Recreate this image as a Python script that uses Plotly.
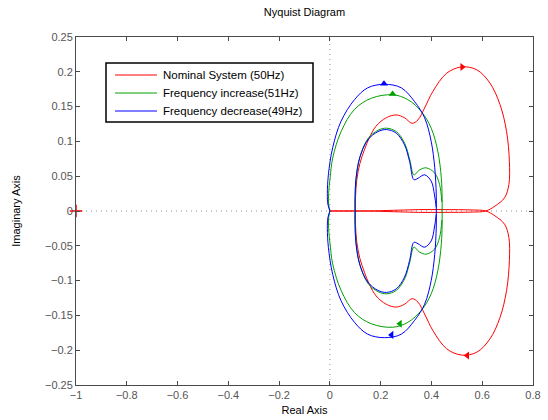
import plotly.graph_objects as go

# ---- data (upper half, positive frequencies) ----
# Nominal system (50Hz) - red
red_x = [0.100, 0.101, 0.106, 0.118, 0.136, 0.155, 0.182, 0.222, 0.261, 0.294, 0.324,
         0.347, 0.373, 0.406, 0.460, 0.519, 0.578, 0.630, 0.670, 0.696, 0.707, 0.705,
         0.688, 0.650, 0.614, 0.560, 0.450, 0.350, 0.250, 0.150, 0.000]
red_y = [0.000, 0.020, 0.045, 0.068, 0.088, 0.105, 0.122, 0.134, 0.138, 0.134, 0.126,
         0.131, 0.148, 0.172, 0.198, 0.207, 0.203, 0.184, 0.153, 0.114, 0.071, 0.038,
         0.019, 0.007, 0.000, -0.0015, -0.002, -0.002, -0.001, 0.000, 0.000]

# Frequency increase (51Hz) - green : outer loop and inner loop
green_outer_x = [0.000, -0.005, -0.005, 0.001, 0.011, 0.044, 0.097, 0.163, 0.248, 0.307,
                 0.360, 0.399, 0.425, 0.439, 0.442, 0.442]
green_outer_y = [0.000, 0.010, 0.025, 0.048, 0.076, 0.114, 0.146, 0.162, 0.167, 0.160,
                 0.143, 0.119, 0.086, 0.047, 0.020, 0.000]
green_inner_x = [0.100, 0.100, 0.103, 0.118, 0.150, 0.190, 0.223, 0.262, 0.295, 0.315,
                 0.331, 0.353, 0.379, 0.412, 0.432, 0.441]
green_inner_y = [0.000, 0.020, 0.045, 0.077, 0.104, 0.116, 0.119, 0.114, 0.097, 0.073,
                 0.052, 0.059, 0.062, 0.055, 0.038, 0.013]

# Frequency decrease (49Hz) - blue : outer loop and inner loop
blue_outer_x = [0.000, -0.008, -0.010, -0.006, 0.011, 0.044, 0.097, 0.149, 0.215, 0.281,
                0.334, 0.373, 0.399, 0.413, 0.419, 0.419]
blue_outer_y = [0.000, 0.010, 0.025, 0.052, 0.091, 0.129, 0.160, 0.177, 0.182, 0.177,
                0.157, 0.134, 0.100, 0.062, 0.023, 0.000]
blue_inner_x = [0.099, 0.099, 0.102, 0.117, 0.149, 0.189, 0.222, 0.261, 0.294, 0.314,
                0.331, 0.347, 0.373, 0.399, 0.412, 0.419]
blue_inner_y = [0.000, 0.020, 0.044, 0.076, 0.102, 0.114, 0.117, 0.112, 0.095, 0.071,
                0.045, 0.047, 0.052, 0.043, 0.023, 0.005]

# direction arrows (x, y, symbol)
red_arrows = [(0.521, 0.207, "triangle-right"), (0.541, -0.2075, "triangle-left")]
green_arrows = [(0.247, 0.168, "triangle-up"), (0.276, -0.162, "triangle-left")]
blue_arrows = [(0.213, 0.183, "triangle-up"), (0.243, -0.178, "triangle-left")]

critical_point = (-1.0, 0.0)

names = ["Nominal System (50Hz)", "Frequency increase(51Hz)", "Frequency decrease(49Hz)"]
colors = ["#ff0000", "#00a000", "#0000ff"]

x_ticks = [-1, -0.8, -0.6, -0.4, -0.2, 0, 0.2, 0.4, 0.6, 0.8]
y_ticks = [-0.25, -0.2, -0.15, -0.1, -0.05, 0, 0.05, 0.1, 0.15, 0.2, 0.25]


def full_branch(xs, ys):
    """positive-frequency branch + its complex-conjugate (negative-frequency) mirror"""
    return list(xs) + [None] + list(xs), list(ys) + [None] + [-v for v in ys]


def join(*parts):
    X, Y = [], []
    for px, py in parts:
        if X:
            X.append(None)
            Y.append(None)
        X += px
        Y += py
    return X, Y


series = [
    join(full_branch(red_x, red_y)),
    join(full_branch(green_outer_x, green_outer_y), full_branch(green_inner_x, green_inner_y)),
    join(full_branch(blue_outer_x, blue_outer_y), full_branch(blue_inner_x, blue_inner_y)),
]
arrows = [red_arrows, green_arrows, blue_arrows]

FONT = "Liberation Sans, Arial, Helvetica, sans-serif"

fig = go.Figure()
for (X, Y), name, col in zip(series, names, colors):
    fig.add_trace(go.Scatter(x=X, y=Y, mode="lines", name=name,
                             line=dict(color=col, width=1, shape="spline", smoothing=1.0),
                             connectgaps=False, hoverinfo="skip", showlegend=False))

for arr, col in zip(arrows, colors):
    fig.add_trace(go.Scatter(x=[a[0] for a in arr], y=[a[1] for a in arr], mode="markers",
                             marker=dict(symbol=[a[2] for a in arr], size=7, color=col),
                             showlegend=False, hoverinfo="skip"))

fig.add_trace(go.Scatter(x=[critical_point[0]], y=[critical_point[1]], mode="markers",
                         marker=dict(symbol="cross-thin", size=9,
                                     line=dict(color="#ff0000", width=1.5)),
                         showlegend=False, hoverinfo="skip", cliponaxis=False))

# dotted zero lines
fig.add_shape(type="line", xref="x", yref="paper", x0=0, x1=0, y0=0, y1=1,
              line=dict(color="#909090", width=1, dash="1px,4px"), layer="below")
fig.add_shape(type="line", xref="paper", yref="paper", x0=0, x1=1, y0=0.5, y1=0.5,
              line=dict(color="#909090", width=1, dash="1px,4px"), layer="below")

# legend box (MATLAB style), placed in paper coordinates
PW, PH = 457.0, 348.0          # plot area size in px
def px2x(p):
    return p / PW
def px2y(p):
    return 1 - p / PH

leg_left, leg_right, leg_top, leg_bottom = 30, 237, 26, 85   # px from plot top-left
fig.add_shape(type="rect", xref="paper", yref="paper",
              x0=px2x(leg_left), x1=px2x(leg_right), y0=px2y(leg_bottom), y1=px2y(leg_top),
              line=dict(color="#000000", width=1.5), fillcolor="white", layer="above")
for i, (name, col) in enumerate(zip(names, colors)):
    yc = 38 + 18 * i
    fig.add_shape(type="line", xref="paper", yref="paper",
                  x0=px2x(39), x1=px2x(81), y0=px2y(yc), y1=px2y(yc),
                  line=dict(color=col, width=1), layer="above")
    fig.add_annotation(xref="paper", yref="paper", x=px2x(85), y=px2y(yc),
                       xanchor="left", yanchor="middle", text=name, showarrow=False,
                       font=dict(family=FONT, size=11.5, color="#000000"))

axis_common = dict(showgrid=False, zeroline=False, showline=True, mirror="ticks",
                   linecolor="#4a4a4a", linewidth=1, ticks="inside", ticklen=4,
                   tickcolor="#4a4a4a", tickfont=dict(family=FONT, size=11, color="#555555"))

fig.update_xaxes(range=[-1, 0.8], tickvals=x_ticks,
                 ticktext=[("\u2212" if v < 0 else "") + f"{abs(v):g}" for v in x_ticks],
                 title=dict(text="Real Axis", font=dict(family=FONT, size=11, color="#000000"),
                            standoff=6),
                 **axis_common)
fig.update_yaxes(range=[-0.25, 0.25], tickvals=y_ticks,
                 ticktext=[("\u2212" if v < 0 else "") + f"{abs(v):g}" for v in y_ticks],
                 title=dict(text="Imaginary Axis", font=dict(family=FONT, size=11, color="#000000"),
                            standoff=22),
                 **axis_common)

fig.update_layout(
    width=548, height=420,
    margin=dict(l=76, r=15, t=37, b=35, autoexpand=False),
    paper_bgcolor="white", plot_bgcolor="white",
    title=dict(text="Nyquist Diagram", x=0.5, xref="paper", y=0.972, yref="container",
               yanchor="middle", font=dict(family=FONT, size=11, color="#000000")),
    showlegend=False,
)

fig.write_html("out.html", config={"displayModeBar": False, "staticPlot": True},
               post_script="document.body.style.margin='0px';document.body.style.overflow='hidden';")
